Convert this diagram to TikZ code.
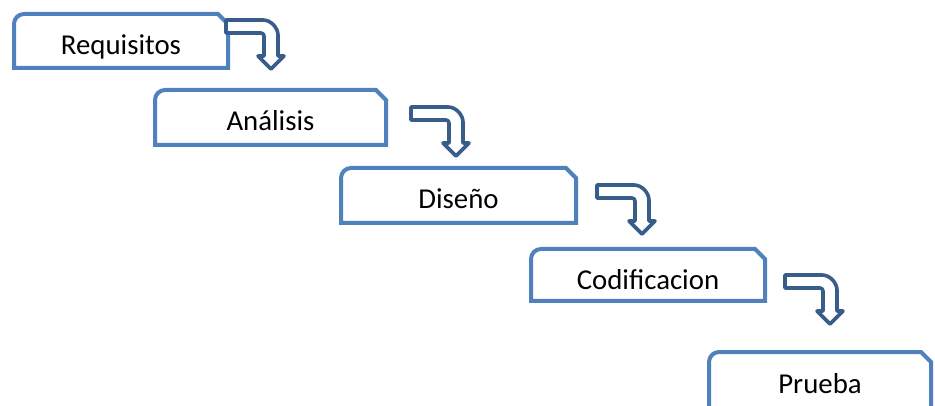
\documentclass[tikz,border=0pt]{standalone}
\usepackage{fontspec}
\setmainfont{Carlito}
\definecolor{boxblue}{HTML}{4F81BD}
\definecolor{arrblue}{HTML}{385D8A}
\tikzset{
  boxsty/.style={draw=boxblue, line width=4pt, fill=white},
  arrsty/.style={draw=arrblue, line width=3.6pt, fill=white, line join=round},
  lbl/.style={anchor=base, inner sep=0pt, font=\fontsize{28.8}{34}\selectfont, text=black}
}
\newcommand\wfbox[6]{%
  \draw[boxsty] (#2,#5) -- (#2,#3+10) .. controls (#2,#3+4.5) and (#2+4.5,#3) .. (#2+10,#3)
     -- (#4-10,#3) -- (#4,#3+10) -- (#4,#5) -- cycle;
  \node[lbl] (#1) at ({(#2+#4)/2},#3+41) {#6};
}
\newcommand\bentarr[3]{%
  \coordinate (#1) at (#2,#3);
  \draw[arrsty] (#1) -- ++(37,0) .. controls ++(8.3,0) and ++(0,-6.7) .. ++(15,15)
    -- ++(0,21) -- ++(6,0) -- ++(-13,13) -- ++(-13,-13) -- ++(6,0)
    -- ++(0,-20) .. controls ++(0,-1.7) and ++(1.7,0) .. ++(-3,-3) -- ++(-35,0) -- cycle;
}
\begin{document}
\begin{tikzpicture}[x=1pt,y=-1pt]
\useasboundingbox (0,0) rectangle (935,406);
\wfbox{req}{14}{14}{228}{68}{Requisitos}
\wfbox{ana}{155}{90}{386}{145}{Análisis}
\wfbox{dis}{341}{168}{576}{223}{Diseño}
\wfbox{cod}{531}{249}{765}{301}{Codificacion}
\wfbox{pru}{709}{352}{931}{430}{Prueba}
\bentarr{a1}{226}{20}
\bentarr{a2}{411}{107}
\bentarr{a3}{597}{185}
\bentarr{a4}{785}{275}
\end{tikzpicture}
\end{document}
